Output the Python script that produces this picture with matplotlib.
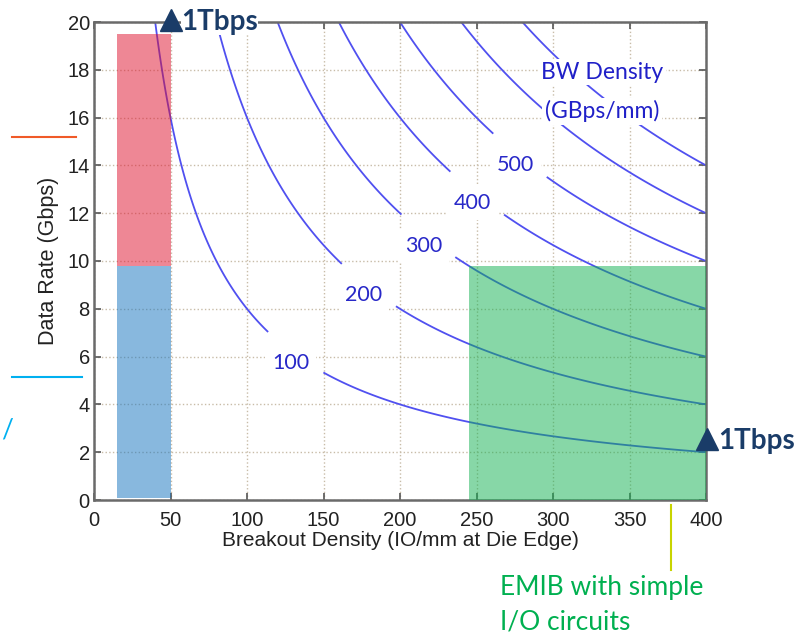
import numpy as np
import matplotlib
matplotlib.use("Agg")
import matplotlib.pyplot as plt
from matplotlib.patches import Rectangle

# ---- data ----
bw_levels = [100, 200, 300, 400, 500, 600, 700]          # GBps/mm contour levels
label_levels = [100, 200, 300, 400, 500]
label_x = [131, 179, 218, 250, 278]                        # x positions of contour labels
x_range = (0, 400)
y_range = (0, 20)
x_ticks = [0, 50, 100, 150, 200, 250, 300, 350, 400]
y_ticks = [0, 2, 4, 6, 8, 10, 12, 14, 16, 18, 20]
# regions: (x0, x1, y0, y1)
red_region = (15, 50, 9.8, 19.5)
blue_region = (15, 50, 0.1, 9.8)
green_region = (245, 400, 0, 9.8)

fig = plt.figure(figsize=(7.99, 6.34), dpi=100)
ax = fig.add_axes([94/799, 1 - 500/634, (706-94)/799, (500-22)/634])

xg = np.linspace(1, 400, 800)
yg = np.linspace(0.05, 20, 800)
X, Y = np.meshgrid(xg, yg)
Z = X * Y / 8.0
cs = ax.contour(X, Y, Z, levels=bw_levels, colors='#5050f0', linewidths=1.3, zorder=2)
pos = [(lx, 8.0 * lv / lx) for lx, lv in zip(label_x, label_levels)]
lbls = ax.clabel(cs, levels=label_levels, manual=pos, inline=True, inline_spacing=14,
                 fmt='%d', fontsize=15.5, colors='#2828c8')
for t in lbls:
    t.set_fontfamily('Lato')
    t.set_rotation(0)
    x, y = t.get_position()
    t.set_position((x - 2.5, y - 0.38))
    t.set_bbox(dict(facecolor='white', edgecolor='none', pad=5))
    t.set_zorder(4)

for (x0, x1, y0, y1), c in [(red_region, '#df112d'), (blue_region, '#1373bf'),
                            (green_region, '#11b151')]:
    ax.add_patch(Rectangle((x0, y0), x1 - x0, y1 - y0, facecolor=c, alpha=0.5,
                           edgecolor='none', zorder=3))

ax.set_xlim(*x_range)
ax.set_ylim(*y_range)
ax.set_xticks(x_ticks)
ax.set_yticks(y_ticks)
ax.grid(True, linestyle=':', color='#c8bca8', linewidth=1.0)
ax.set_axisbelow(True)
ax.tick_params(direction='in', top=True, right=True, length=5, width=1.2,
               colors='#555555', labelcolor='#222222', labelsize=14.5, pad=3)
ax.tick_params(axis='x', pad=8)
for lab in ax.get_xticklabels() + ax.get_yticklabels():
    lab.set_fontfamily('Liberation Sans')
for s in ax.spines.values():
    s.set_color('#6a6a6a')
    s.set_linewidth(1.8)
ax.set_xlabel('Breakout Density (IO/mm at Die Edge)', fontsize=15,
              family='Liberation Sans', color='#222222', labelpad=1)
ax.set_ylabel('Data Rate (Gbps)', fontsize=15.5, family='Liberation Sans',
              color='#222222', labelpad=6)

ax.text(0.83, 0.895, 'BW Density', transform=ax.transAxes, ha='center', va='center',
        fontsize=16.5, family='Lato', color='#2020c8', zorder=5,
        bbox=dict(facecolor='white', edgecolor='none', pad=2))
ax.text(0.83, 0.813, '(GBps/mm)', transform=ax.transAxes, ha='center', va='center',
        fontsize=16.5, family='Lato', color='#2020c8', zorder=5,
        bbox=dict(facecolor='white', edgecolor='none', pad=2))

navy = '#1a3c68'
# 1Tbps markers
ax.text(57, 20.0, '1Tbps', ha='left', va='center', fontsize=20, fontweight='bold',
        family='Lato', color=navy, zorder=6, clip_on=False,
        bbox=dict(facecolor='white', edgecolor='none', pad=0))
ax.plot([50.3], [20.1], marker='^', markersize=16, color=navy, clip_on=False, zorder=7)
ax.text(408, 2.45, '1Tbps', ha='left', va='center', fontsize=20, fontweight='bold',
        family='Lato', color=navy, zorder=6, clip_on=False)
ax.plot([400.7], [2.55], marker='^', markersize=16, color=navy, clip_on=False, zorder=7)

# decorations outside axes
fig.add_artist(plt.Line2D([12/799, 76/799], [1 - 137/634, 1 - 137/634], color='#f05a28', lw=1.5))
fig.add_artist(plt.Line2D([12/799, 82/799], [1 - 377/634, 1 - 377/634], color='#00b0f0', lw=1.5))
fig.text(1/799, 1 - 430/634, '/', fontsize=19, color='#00b0f0', ha='left', va='center',
         family='Lato')
fig.add_artist(plt.Line2D([671/799, 671/799], [1 - 505/634, 1 - 570/634], color='#c8d400', lw=1.5))
fig.text(500/799, 1 - 587/634, 'EMIB with simple', fontsize=19, color='#00b050',
         ha='left', va='center', family='Lato')
fig.text(500/799, 1 - 622/634, 'I/O circuits', fontsize=19, color='#00b050',
         ha='left', va='center', family='Lato')

fig.savefig('out.png', dpi=100)
